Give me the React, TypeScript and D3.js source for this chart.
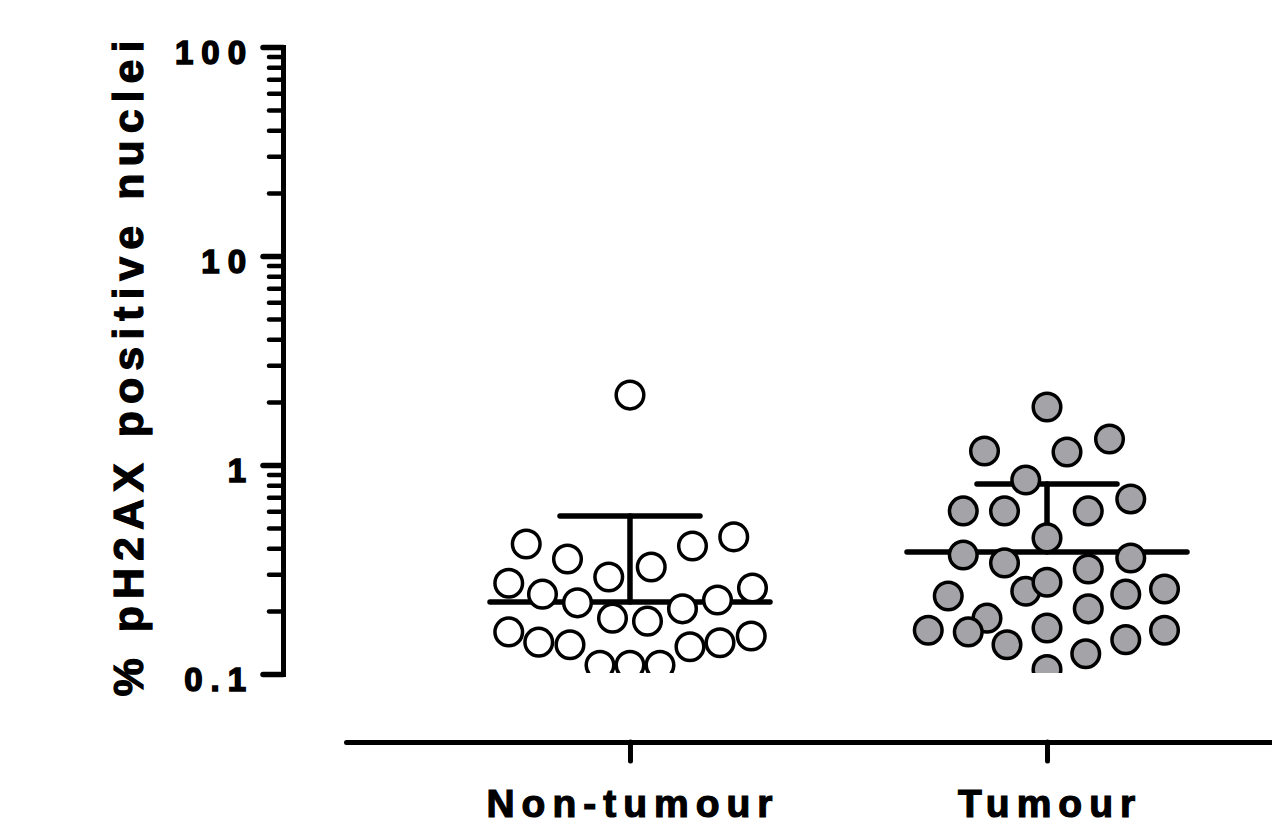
import React, { useEffect, useRef } from 'react';
import * as d3 from 'd3';

const categories = ['Non-tumour', 'Tumour'];

const nonTumourValues = [
  2.16, 0.419, 0.355, 0.291, 0.325, 0.41, 0.453, 0.272, 0.241, 0.219, 0.185, 0.179,
  0.205, 0.226, 0.258, 0.159, 0.142, 0.138, 0.11, 0.11, 0.11, 0.135, 0.141, 0.152,
];
// horizontal scatter of each point, -1..1 of the column half-width
const nonTumourJitter = [
  0, -0.83, -0.5, -0.17, 0.17, 0.5, 0.83, -0.97, -0.7, -0.42, -0.14, 0.14,
  0.42, 0.7, 0.98, -0.97, -0.73, -0.48, -0.24, 0, 0.24, 0.48, 0.72, 0.97,
];

const tumourValues = [
  1.895, 1.167, 1.154, 1.331, 0.848, 0.603, 0.603, 0.603, 0.688, 0.448, 0.371, 0.34,
  0.318, 0.359, 0.249, 0.275, 0.236, 0.241, 0.255, 0.205, 0.185, 0.162, 0.159, 0.166,
  0.162, 0.146, 0.138, 0.125, 0.105,
];
const tumourJitter = [
  0, -0.5, 0.16, 0.5, -0.17, -0.67, -0.34, 0.33, 0.67, 0, -0.67, -0.34,
  0.33, 0.67, -0.17, 0, -0.79, 0.63, 0.94, 0.33, -0.48, -0.95, -0.63, 0,
  0.94, 0.63, -0.32, 0.31, 0,
];

// mean and upper error bar
const groupMeans = [0.221, 0.383];
const groupUpper = [0.57, 0.811];

const yTickValues = [0.1, 1, 10, 100];
const yTickLabels = ['0.1', '1', '10', '100'];

const FONT = '"Liberation Sans", Arial, sans-serif';

const App: React.FC = () => {
  const svgRef = useRef<SVGSVGElement | null>(null);

  useEffect(() => {
    const svg = d3.select(svgRef.current);
    svg.selectAll('*').remove();

    const width = 1272;
    const height = 838;
    svg.attr('width', width).attr('height', height);

    const x = d3.scalePoint<string>().domain(categories).range([346, 1331]).padding(0.681);
    const y = d3.scaleLog().domain([0.1, 100]).range([674, 47]);
    const jitter = d3.scaleLinear().domain([-1, 1]).range([-125, 125]);

    const axisX = 283;

    // y axis: minor ticks
    const minorTicks: number[] = [];
    [0.1, 1, 10].forEach((d) => {
      for (let k = 2; k <= 9; k++) minorTicks.push(+(d * k).toPrecision(3));
    });

    const minorAxis = svg
      .append('g')
      .attr('transform', `translate(${axisX},0)`)
      .call(d3.axisLeft(y).tickValues(minorTicks).tickSize(14).tickSizeOuter(0).tickFormat(() => ''));
    minorAxis.select('.domain').remove();
    minorAxis
      .selectAll('line')
      .attr('stroke', '#000')
      .attr('stroke-width', 4.5)
      .attr('stroke-linecap', 'round');

    const majorAxis = svg
      .append('g')
      .attr('transform', `translate(${axisX},0)`)
      .call(d3.axisLeft(y).tickValues(yTickValues).tickSize(20).tickSizeOuter(0).tickFormat(() => ''));
    majorAxis
      .select('.domain')
      .attr('stroke', '#000')
      .attr('stroke-width', 5)
      .attr('stroke-linecap', 'square');
    majorAxis
      .selectAll('line')
      .attr('stroke', '#000')
      .attr('stroke-width', 5.5)
      .attr('stroke-linecap', 'round');

    svg
      .append('g')
      .selectAll('text')
      .data(yTickValues)
      .join('text')
      .attr('x', 254)
      .attr('y', (d) => y(d) + 17)
      .attr('text-anchor', 'end')
      .attr('font-family', FONT)
      .attr('font-weight', 'bold')
      .attr('font-size', 33)
      .attr('letter-spacing', 8)
      .attr('fill', '#000')
      .attr('stroke', '#000')
      .attr('stroke-width', 1.5)
      .text((d, i) => yTickLabels[i]);

    // y title
    svg
      .append('text')
      .attr('transform', `translate(143,365) rotate(-90)`)
      .attr('text-anchor', 'middle')
      .attr('font-family', FONT)
      .attr('font-weight', 'bold')
      .attr('font-size', 43)
      .attr('letter-spacing', 7)
      .attr('fill', '#000')
      .attr('stroke', '#000')
      .attr('stroke-width', 1.2)
      .text('% pH2AX positive nuclei');

    // x axis
    const xAxisY = 742;
    const xAxis = svg
      .append('g')
      .attr('transform', `translate(0,${xAxisY})`)
      .call(d3.axisBottom(x).tickSize(19).tickSizeOuter(0).tickFormat(() => ''));
    xAxis
      .select('.domain')
      .attr('stroke', '#000')
      .attr('stroke-width', 5)
      .attr('stroke-linecap', 'round');
    xAxis
      .selectAll('line')
      .attr('stroke', '#000')
      .attr('stroke-width', 5)
      .attr('stroke-linecap', 'round');

    svg
      .append('g')
      .selectAll('text')
      .data(categories)
      .join('text')
      .attr('x', (d) => (x(d) as number) + 3)
      .attr('y', 817)
      .attr('text-anchor', 'middle')
      .attr('font-family', FONT)
      .attr('font-weight', 'bold')
      .attr('font-size', 39)
      .attr('letter-spacing', 7)
      .attr('fill', '#000')
      .attr('stroke', '#000')
      .attr('stroke-width', 1.2)
      .text((d) => d);

    // clip for points below 0.1
    svg
      .append('defs')
      .append('clipPath')
      .attr('id', 'plot-clip')
      .append('rect')
      .attr('x', axisX)
      .attr('y', 0)
      .attr('width', width)
      .attr('height', y(0.1) - 1);

    // mean + upper error bars
    const bars = svg.append('g').attr('stroke', '#000').attr('stroke-linecap', 'round');
    categories.forEach((c, i) => {
      const cx = x(c) as number;
      bars
        .append('line')
        .attr('x1', cx - 140)
        .attr('x2', cx + 140)
        .attr('y1', y(groupMeans[i]))
        .attr('y2', y(groupMeans[i]))
        .attr('stroke-width', 5.5);
      bars
        .append('line')
        .attr('x1', cx)
        .attr('x2', cx)
        .attr('y1', y(groupMeans[i]))
        .attr('y2', y(groupUpper[i]))
        .attr('stroke-width', 5.5);
      bars
        .append('line')
        .attr('x1', cx - 70)
        .attr('x2', cx + 70)
        .attr('y1', y(groupUpper[i]))
        .attr('y2', y(groupUpper[i]))
        .attr('stroke-width', 5.5);
    });

    // points
    const groups = [
      { cat: categories[0], values: nonTumourValues, jit: nonTumourJitter, fill: '#ffffff' },
      { cat: categories[1], values: tumourValues, jit: tumourJitter, fill: '#a3a3a8' },
    ];
    const pts = svg.append('g').attr('clip-path', 'url(#plot-clip)');
    groups.forEach((g) => {
      const cx = x(g.cat) as number;
      pts
        .append('g')
        .selectAll('circle')
        .data(g.values)
        .join('circle')
        .attr('cx', (d, i) => cx + jitter(g.jit[i]))
        .attr('cy', (d) => y(d))
        .attr('r', 13.8)
        .attr('fill', g.fill)
        .attr('stroke', '#000')
        .attr('stroke-width', 3.5);
    });
  }, []);

  return (
    <svg
      ref={svgRef}
      style={{ position: 'absolute', left: 0, top: 0, display: 'block', background: '#fff' }}
    ></svg>
  );
};

export default App;
